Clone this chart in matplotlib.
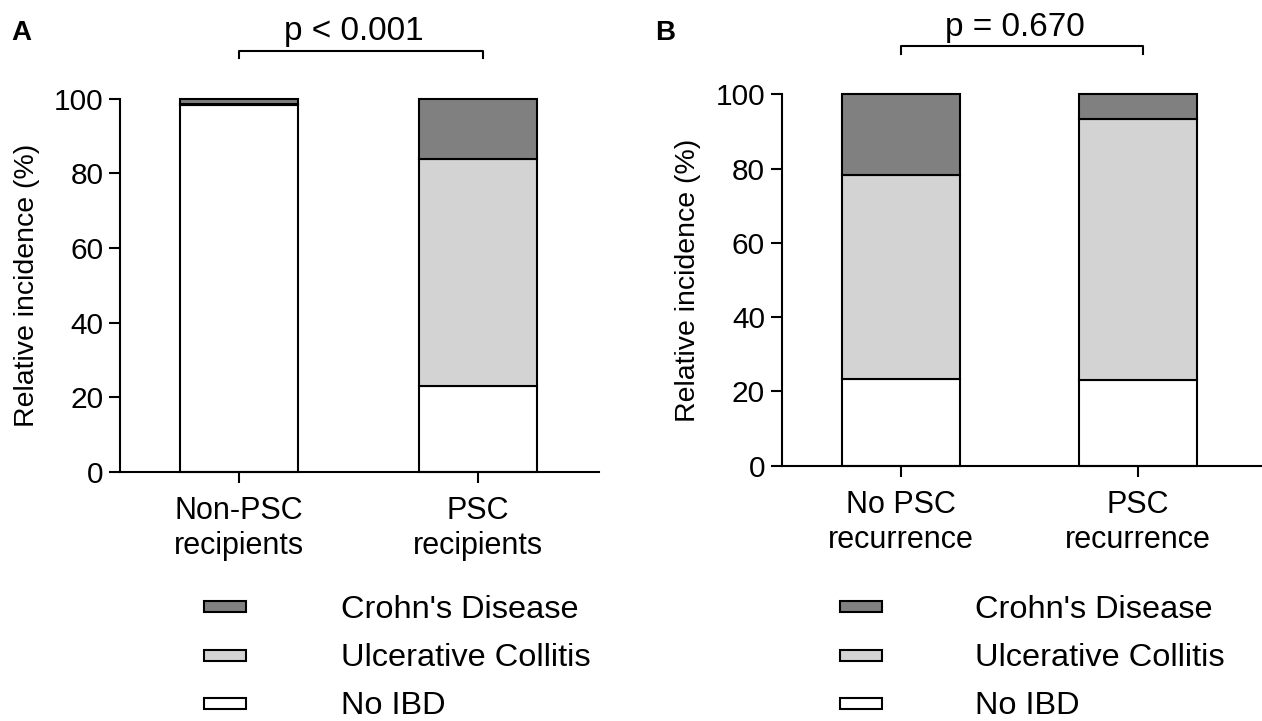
import matplotlib
matplotlib.use("Agg")
import matplotlib.pyplot as plt
import numpy as np
from matplotlib.patches import Rectangle

# panel A: PSC vs non-PSC recipients
groups_a = ["Non-PSC\nrecipients", "PSC\nrecipients"]
no_ibd_a = [98.3, 23.0]
uc_a = [0.4, 60.8]
cd_a = [1.3, 16.2]
p_a = "p < 0.001"

# panel B: recurrence vs no recurrence
groups_b = ["No PSC\nrecurrence", "PSC\nrecurrence"]
no_ibd_b = [23.3, 23.1]
uc_b = [55.0, 70.2]
cd_b = [21.7, 6.7]
p_b = "p = 0.670"

legend_labels = ["Crohn's Disease", "Ulcerative Collitis", "No IBD"]
legend_colors = ["#808080", "#d3d3d3", "#ffffff"]
yticks = [0, 20, 40, 60, 80, 100]

plt.rcParams.update({
    "font.family": ["Liberation Sans", "DejaVu Sans"],
    "axes.spines.top": False, "axes.spines.right": False,
    "axes.linewidth": 1.5,
})

W, H = 1262, 721
fig = plt.figure(figsize=(W / 100, H / 100), dpi=100)


def px(x0, y0, x1, y1):
    # pixel box -> figure fraction rect
    return [x0 / W, 1 - y1 / H, (x1 - x0) / W, (y1 - y0) / H]


def panel(ax, labels, no_ibd, uc, cd, ptxt, xlim, letter, letter_x):
    x = np.arange(len(labels))
    no_ibd, uc, cd = map(np.array, (no_ibd, uc, cd))
    kw = dict(width=0.494, edgecolor="black", linewidth=1.5, clip_on=False)
    ax.bar(x, no_ibd, color=legend_colors[2], **kw)
    ax.bar(x, uc, bottom=no_ibd, color=legend_colors[1], **kw)
    ax.bar(x, cd, bottom=no_ibd + uc, color=legend_colors[0], **kw)
    ax.set_xlim(*xlim)
    ax.set_ylim(0, 100)
    ax.set_yticks(yticks)
    ax.set_xticks(x, labels)
    ax.tick_params(axis="y", length=8, width=1.5, pad=4, labelsize=21.5)
    ax.tick_params(axis="x", length=8, width=1.5, pad=9.5, labelsize=22)
    ax.set_ylabel("Relative incidence (%)", fontsize=20.5)
    ax.yaxis.set_label_coords(-0.167, 0.5)
    # significance bracket
    ax.plot([0, 0, 1.02, 1.02], [110.9, 112.9, 112.9, 110.9], color="black",
            linewidth=1.5, clip_on=False)
    ax.text(0.48, 115.6, ptxt, ha="center", va="baseline", fontsize=24)
    fig.text(letter_x / W, 1 - 40 / H, letter, fontsize=20, fontweight="bold",
             va="baseline")


ax_a = fig.add_axes(px(120, 98.7, 599, 472))
panel(ax_a, groups_a, no_ibd_a, uc_a, cd_a, p_a, (-0.498, 1.506), "A", 11)

ax_b = fig.add_axes(px(781.7, 94.3, 1262, 465.7))
panel(ax_b, groups_b, no_ibd_b, uc_b, cd_b, p_b, (-0.503, 1.523), "B", 655)

# legends drawn by hand (GraphPad style, stacked rows below each panel)
rows = [606, 655, 703]
for patch_x, text_x in [(204, 341), (840, 975)]:
    for lab, col, yc in zip(legend_labels, legend_colors, rows):
        fig.patches.append(Rectangle((patch_x / W, 1 - (yc + 5.5) / H), 42 / W, 11 / H,
                                     transform=fig.transFigure, facecolor=col,
                                     edgecolor="black", linewidth=1.5))
        fig.text(text_x / W, 1 - (yc + 11.5) / H, lab, fontsize=23.4, va="baseline")

fig.savefig("out.png", dpi=100)
